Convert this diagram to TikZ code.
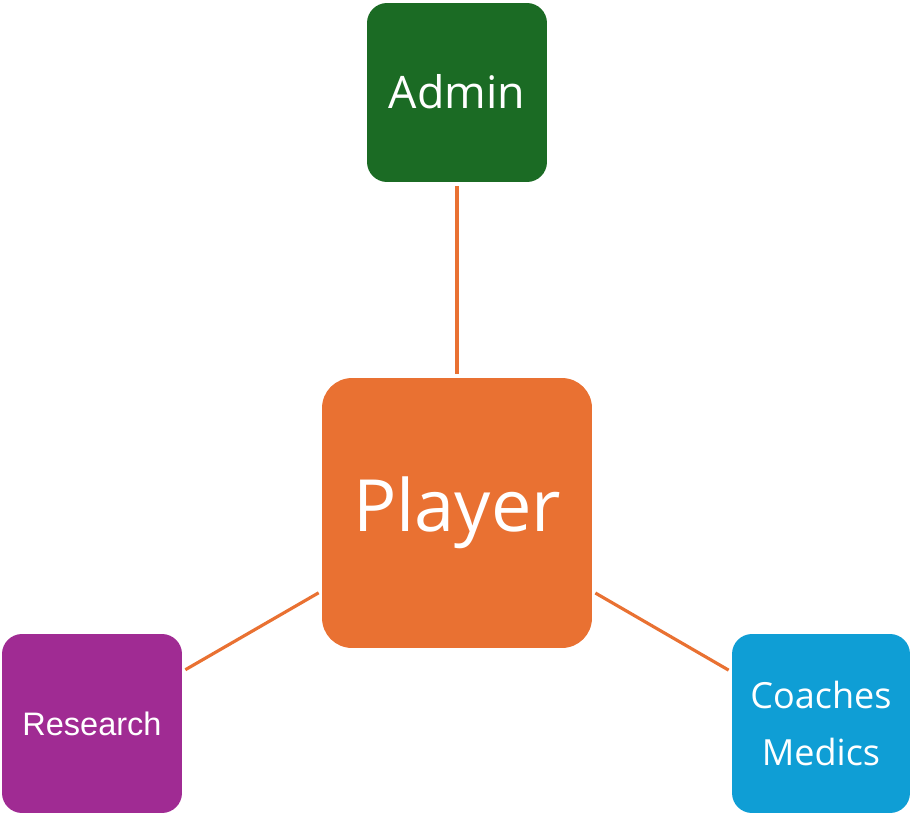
\documentclass[tikz,border=0pt]{standalone}
\usepackage{fontspec}
\setmainfont{Open Sans}
\newfontfamily\arialfont{Liberation Sans}
\usepackage{tikz}
\usetikzlibrary{calc}
\definecolor{player-orange}{RGB}{233,113,50}
\definecolor{admin-green}{RGB}{27,107,36}
\definecolor{research-purple}{RGB}{160,43,147}
\definecolor{coach-blue}{RGB}{15,158,213}
\tikzset{
	unitbox/.style={rounded corners=0.4cm, text=white, minimum width=3.6cm, minimum height=3.58cm, inner sep=0pt, align=center},
	link/.style={draw=player-orange, line width=1.8pt, shorten <=0.07cm, shorten >=0.07cm}
}

\begin{document}
\begin{tikzpicture}[x=0.02cm,y=-0.02cm]
	\useasboundingbox (0,0) rectangle (910,814);
	\node[unitbox, fill=player-orange, rounded corners=0.6cm, minimum width=5.4cm, minimum height=5.4cm, font=\fontsize{41}{48}\selectfont] (player) at (457,513) {\raisebox{-3pt}{Player}};
	\node[unitbox, fill=admin-green, font=\fontsize{25.5}{30}\selectfont] (admin) at (457,92.5) {\raisebox{1pt}{Admin}};
	\node[unitbox, fill=research-purple, font=\arialfont\fontsize{18.5}{22}\selectfont] (research) at (92,723.5) {Research};
	\node[unitbox, fill=coach-blue, minimum width=3.56cm, font=\fontsize{20.5}{32.4}\selectfont] (coaches) at (821,723.5) {Coaches\\Medics};
	\draw[link] (admin) -- (player);
	\draw[link] (player) -- (research);
	\draw[link] (player) -- (coaches);
\end{tikzpicture}
\end{document}
